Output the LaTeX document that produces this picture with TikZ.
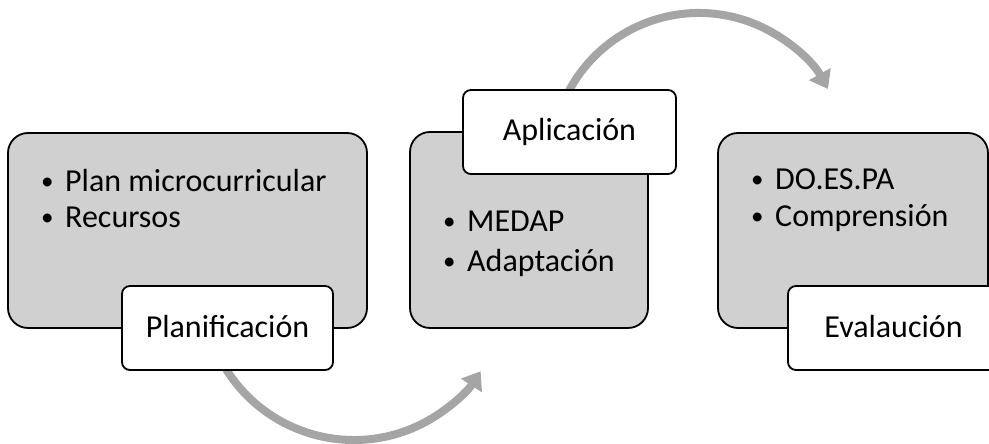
\documentclass[tikz,border=0pt]{standalone}
\usepackage{fontspec}
\setmainfont{Carlito}
\usetikzlibrary{arrows.meta}
\definecolor{boxgray}{HTML}{D0D0D0}
\definecolor{arcgray}{HTML}{A5A5A5}
\tikzset{
  bigbox/.style={draw=black, line width=1.8pt, fill=boxgray, rounded corners=20pt},
  labelbox/.style={draw=black, line width=1.8pt, fill=white, rounded corners=8pt},
  item/.style={anchor=base west, inner sep=0pt, font=\fontsize{32}{38}\selectfont},
  lbl/.style={anchor=base, inner sep=0pt, font=\fontsize{32}{38}\selectfont},
  cyclearrow/.style={draw=arcgray, line width=8pt, -{Triangle[length=17pt,width=24pt]}}
}
\newcommand{\bul}{\makebox[24pt][l]{\raisebox{2pt}{\fontsize{25}{30}\selectfont •}}}
\begin{document}
\begin{tikzpicture}[x=1pt,y=1pt]
\useasboundingbox (0,0) rectangle (989,444);
% arc centres
\coordinate (c1) at (354,155);
\coordinate (c2) at (699,283.5);
\draw[cyclearrow] (c1) ++(210:151) arc[start angle=210, end angle=327, radius=151];
\draw[cyclearrow] (c2) ++(155:147.5) arc[start angle=155, end angle=29, radius=147.5];
% box 1
\path[bigbox] (8,116) rectangle (367,311);
\node[item] (p1) at (41,252) {\bul Plan microcurricular};
\node[item] (p2) at (41,216) {\bul Recursos};
\path[labelbox] (122,74) rectangle (333,158);
\node[lbl] (pl) at (227.5,106) {Planificación};
% box 2
\path[bigbox] (410,116) rectangle (648,312);
\node[item] (a1) at (443,212) {\bul MEDAP};
\node[item] (a2) at (443,172) {\bul Adaptación};
\path[labelbox] (463,270) rectangle (676,354);
\node[lbl] (al) at (569.5,303) {Aplicación};
% box 3
\path[bigbox] (718,116) rectangle (988,311);
\node[item] (e1) at (751,254) {\bul DO.ES.PA};
\node[item] (e2) at (751,217) {\bul Comprensión};
\path[labelbox] (788,74) rectangle (999,158);
\node[lbl] (el) at (893.5,106) {Evalaución};
\end{tikzpicture}
\end{document}
